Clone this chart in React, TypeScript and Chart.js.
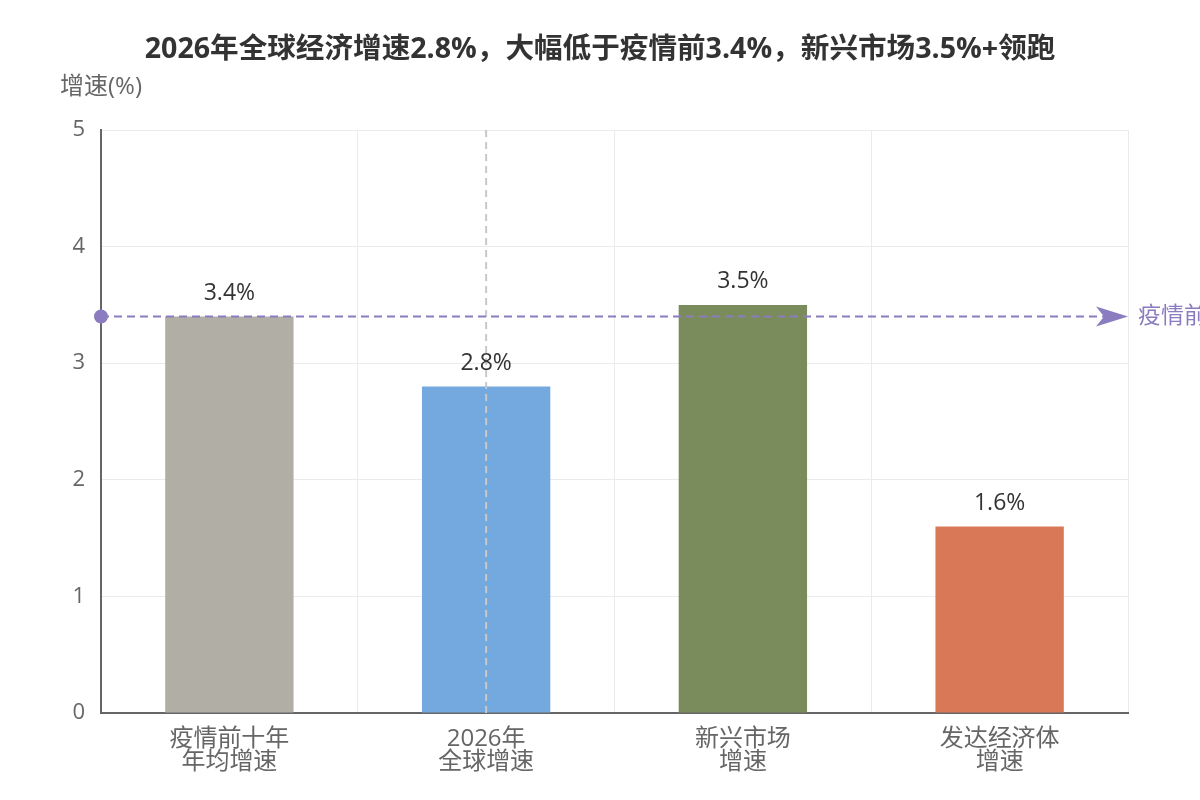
import React, { useEffect, useRef } from "react";
import { Chart, registerables } from "chart.js";

Chart.register(...registerables);

const categories: string[][] = [
  ["疫情前十年", "年均增速"],
  ["2026年", "全球增速"],
  ["新兴市场", "增速"],
  ["发达经济体", "增速"],
];
const values: number[] = [3.4, 2.8, 3.5, 1.6];
const valueLabels: string[] = ["3.4%", "2.8%", "3.5%", "1.6%"];
const barColors: string[] = ["#b1aea6", "#74a9e0", "#7a8c5c", "#d97857"];
const yTicks: number[] = [0, 1, 2, 3, 4, 5];
const markValue = 3.4;
const markLabel = "疫情前均值";
const highlightIndex = 1;
const titleText = "2026年全球经济增速2.8%，大幅低于疫情前3.4%，新兴市场3.5%+领跑";
const yAxisName = "增速(%)";

const FONT = "'Open Sans', 'Noto Sans CJK SC', sans-serif";

const overlayPlugin = {
  id: "overlay",
  afterDatasetsDraw(chart: any) {
    const { ctx, chartArea, scales } = chart;
    ctx.save();
    // vertical dashed line over bars
    const hx = scales.x.getPixelForValue(highlightIndex);
    ctx.strokeStyle = "#c8c8c8";
    ctx.lineWidth = 2;
    ctx.setLineDash([7, 5]);
    ctx.beginPath();
    ctx.moveTo(hx, chartArea.top);
    ctx.lineTo(hx, chartArea.bottom);
    ctx.stroke();

    // value labels
    ctx.setLineDash([]);
    ctx.font = `23px ${FONT}`;
    ctx.fillStyle = "#333";
    ctx.textAlign = "center";
    ctx.textBaseline = "middle";
    const meta = chart.getDatasetMeta(0);
    meta.data.forEach((bar: any, i: number) => {
      ctx.fillText(valueLabels[i], bar.x, bar.y - 23);
    });

    // mark line
    const y = scales.y.getPixelForValue(markValue);
    const purple = "#8b7cbf";
    ctx.strokeStyle = purple;
    ctx.fillStyle = purple;
    ctx.lineWidth = 2;
    ctx.setLineDash([8, 5]);
    ctx.beginPath();
    ctx.moveTo(chartArea.left, y);
    ctx.lineTo(chartArea.right - 20, y);
    ctx.stroke();
    ctx.setLineDash([]);
    ctx.beginPath();
    ctx.arc(chartArea.left, y, 7, 0, Math.PI * 2);
    ctx.fill();
    // arrow
    const ax = chartArea.right;
    ctx.beginPath();
    ctx.moveTo(ax, y);
    ctx.lineTo(ax - 32, y - 10);
    ctx.lineTo(ax - 24, y);
    ctx.lineTo(ax - 32, y + 10);
    ctx.closePath();
    ctx.fill();
    ctx.font = `23px ${FONT}`;
    ctx.textAlign = "left";
    ctx.textBaseline = "middle";
    ctx.fillText(markLabel, ax + 10, y);

    // title & axis name
    ctx.fillStyle = "#333";
    ctx.font = `bold 28.6px ${FONT}`;
    ctx.textAlign = "center";
    ctx.fillText(titleText, 600, 50);
    ctx.fillStyle = "#666";
    ctx.font = `24px ${FONT}`;
    ctx.fillText(yAxisName, 101, 87);
    ctx.restore();
  },
};

export default function App() {
  const ref = useRef<HTMLCanvasElement>(null);
  useEffect(() => {
    document.body.style.margin = "0";
    const chart = new Chart(ref.current!, {
      type: "bar",
      data: {
        labels: categories,
        datasets: [
          {
            data: values,
            backgroundColor: barColors,
            barPercentage: 0.5,
            categoryPercentage: 1,
          },
        ],
      },
      options: {
        animation: false,
        responsive: false,
        layout: { padding: { top: 130, right: 72, left: 0, bottom: 0 } },
        plugins: { legend: { display: false }, tooltip: { enabled: false }, title: { display: false } },
        scales: {
          x: {
            grid: { color: "#ebebeb", lineWidth: 1, offset: true, drawTicks: false },
            border: { color: "#666", width: 2 },
            ticks: {
              color: "#666",
              font: { family: FONT, size: 24, lineHeight: 0.95 },
              padding: 15,
            },
            afterFit(scale: any) {
              scale.height = 87;
            },
          },
          y: {
            min: 0,
            max: 5,
            afterBuildTicks(scale: any) {
              scale.ticks = yTicks.map((v) => ({ value: v }));
            },
            grid: { color: "#ebebeb", lineWidth: 1, drawTicks: false },
            border: { color: "#666", width: 2 },
            ticks: {
              color: "#666",
              font: { family: FONT, size: 22 },
              padding: 16,
            },
            afterFit(scale: any) {
              scale.width = 101;
            },
          },
        },
      },
      plugins: [overlayPlugin],
    });
    return () => chart.destroy();
  }, []);
  return (
    <div style={{ width: 1200, height: 800 }}>
      <canvas ref={ref} width={1200} height={800} style={{ display: "block" }} />
    </div>
  );
}
